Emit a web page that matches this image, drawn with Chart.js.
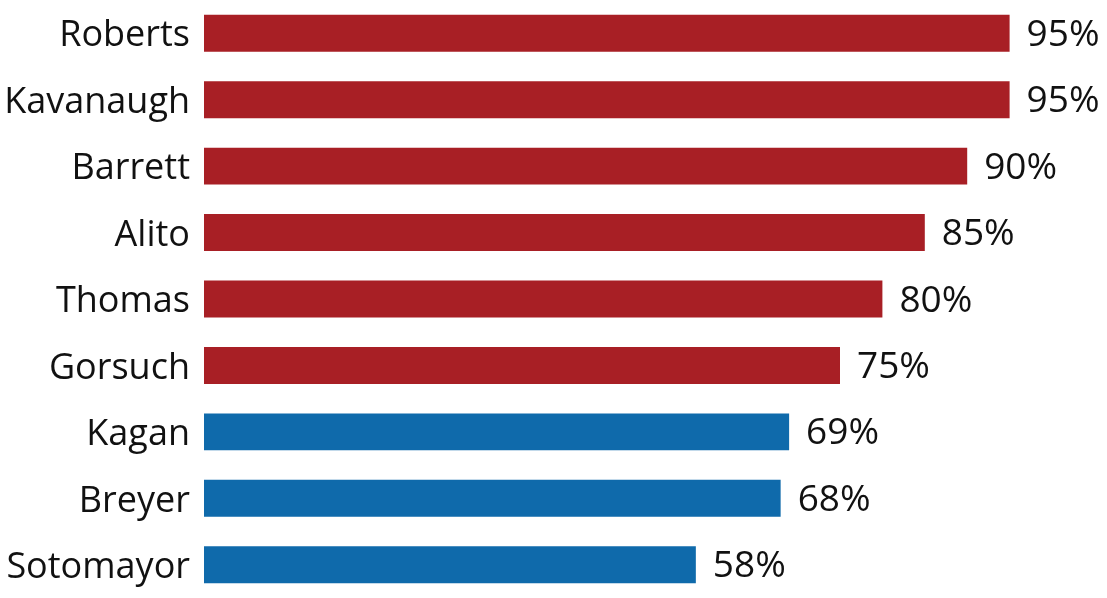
<!DOCTYPE html>
<html>
<head>
<meta charset="utf-8">
<script src="https://cdn.jsdelivr.net/npm/chart.js@4"></script>
<style>
html,body{margin:0;padding:0;background:#fff;}
#c{display:block;}
</style>
</head>
<body>
<canvas id="c" width="1107" height="598"></canvas>
<script>
const justices = ["Roberts","Kavanaugh","Barrett","Alito","Thomas","Gorsuch","Kagan","Breyer","Sotomayor"];
const agreement = [95,95,90,85,80,75,69,68,58];
const wing = ["r","r","r","r","r","r","l","l","l"];
const RED = "#A81F25";
const BLUE = "#0F6AAB";
const FONT = "'Open Sans'";

const valueLabels = {
  id: "valueLabels",
  afterDatasetsDraw(chart) {
    const ctx = chart.ctx;
    const meta = chart.getDatasetMeta(0);
    ctx.save();
    ctx.font = "37px " + FONT;
    ctx.fillStyle = "#111";
    ctx.textAlign = "left";
    ctx.textBaseline = "middle";
    meta.data.forEach((bar, i) => {
      ctx.fillText(agreement[i] + "%", bar.x + 17, bar.y + 2);
    });
    ctx.restore();
  }
};

new Chart(document.getElementById("c"), {
  type: "bar",
  data: {
    labels: justices,
    datasets: [{
      data: agreement,
      backgroundColor: wing.map(w => w === "r" ? RED : BLUE),
      borderWidth: 0,
      barPercentage: 0.556,
      categoryPercentage: 1.0
    }]
  },
  options: {
    indexAxis: "y",
    responsive: false,
    animation: false,
    layout: { padding: { top: -1, bottom: 0, left: 0, right: 55 } },
    plugins: { legend: { display: false }, tooltip: { enabled: false } },
    scales: {
      x: { display: false, min: 0, max: 100 },
      y: {
        grid: { display: false, drawTicks: false },
        border: { display: false },
        ticks: { color: "#111", font: { family: FONT, size: 36 }, padding: 14, labelOffset: 3 },
        afterFit(scale) { scale.width = 204; scale.paddingTop = 0; scale.paddingBottom = 0; }
      }
    }
  },
  plugins: [valueLabels]
});
</script>
</body>
</html>
